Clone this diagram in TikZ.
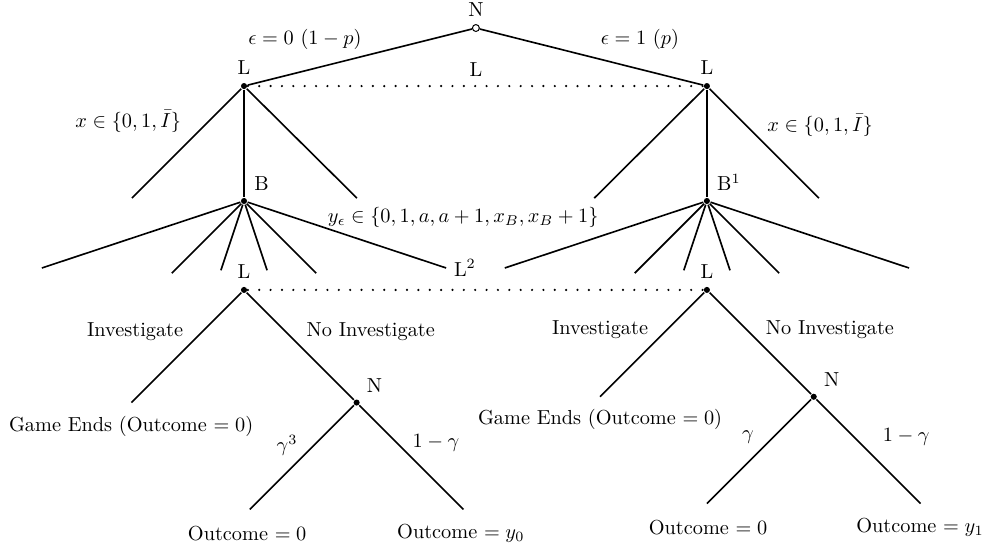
\documentclass[tikz,border=0pt]{standalone}
\usepackage{amsmath}
\begin{document}
\begin{tikzpicture}[
    thick,
    dot/.style={circle, fill=black, inner sep=0pt, minimum size=3pt},
    chance/.style={circle, draw=black, fill=white, line width=0.5pt, inner sep=0pt, minimum size=3.4pt},
    infoset/.style={line width=1.2pt, line cap=round, dash pattern=on 0pt off 5.6pt}
]
    \useasboundingbox (0,0) rectangle (17.09,-9.49);

    % Draw nodes
    \node[chance, label=above:N] (root) at (8.24,-0.485) {};
    \node[dot, label=above:L] (lA) at (4.225,-1.49) {};
    \node[dot, label=above:L] (lB) at (12.24,-1.49) {};
    \node[dot, label=above right:B] (bA) at (4.225,-3.48) {};
    \node[dot, label=above right:B$^1$] (bB) at (12.24,-3.48) {};
    \node[dot, label=above:L] (cA) at (4.225,-5.02) {};
    \node[dot, label=above:L] (cB) at (12.24,-5.02) {};
    \node[dot, label=above right:N] (nA) at (6.175,-6.97) {};
    \node[dot, label=above right:N] (nB) at (14.09,-6.87) {};

    % End points
    \coordinate (xA1) at (2.285,-3.43);
    \coordinate (xA2) at (6.18,-3.43);
    \coordinate (xB1) at (10.29,-3.43);
    \coordinate (xB2) at (14.18,-3.43);
    \coordinate (iA) at (2.275,-6.97);
    \coordinate (iB) at (10.39,-6.87);
    \coordinate (oA0) at (4.325,-8.82);
    \coordinate (oA1) at (8.025,-8.82);
    \coordinate (oB0) at (12.24,-8.72);
    \coordinate (oB1) at (15.94,-8.72);

    % Draw connections
    \draw (root) -- (lA);
    \draw (root) -- (lB);
    \draw[infoset] (lA) -- (lB);
    \draw (lA) -- (xA1);
    \draw (lA) -- (xA2);
    \draw (lA) -- (bA);
    \draw (lB) -- (xB1);
    \draw (lB) -- (xB2);
    \draw (lB) -- (bB);
    \foreach \side in {bA,bB} {
        \foreach \dx/\dy [count=\i] in {-3.5/-1.16, -1.25/-1.25, -0.4/-1.2, 0.4/-1.2, 1.25/-1.25, 3.5/-1.16} {
            \path (\side) ++(\dx,\dy) coordinate (\side-\i);
            \draw (\side) -- (\side-\i);
        }
    }
    \draw[infoset] (cA) -- (cB);
    \draw (cA) -- (iA);
    \draw (cA) -- (nA);
    \draw (nA) -- (oA0);
    \draw (nA) -- (oA1);
    \draw (cB) -- (iB);
    \draw (cB) -- (nB);
    \draw (nB) -- (oB0);
    \draw (nB) -- (oB1);

    % Labels
    \node (eps0) at (5.28,-0.69) {$\epsilon = 0\ (1-p)$};
    \node (eps1) at (11.08,-0.69) {$\epsilon = 1\ (p)$};
    \node (lset) at (8.24,-1.21) {L};
    \node (xsetA) at (2.22,-2.1) {$x \in \{0, 1, \bar{I}\}$};
    \node (xsetB) at (14.2,-2.17) {$x \in \{0, 1, \bar{I}\}$};
    \node (yset) at (8.02,-3.77) {$y_\epsilon \in \{0, 1, a, a+1, x_B, x_B+1\}$};
    \node (lset2) at (8.05,-4.64) {L$^2$};
    \node (invA) at (2.34,-5.75) {Investigate};
    \node (noinvA) at (6.42,-5.75) {No Investigate};
    \node (invB) at (10.39,-5.70) {Investigate};
    \node (noinvB) at (14.37,-5.70) {No Investigate};
    \node (endA) at (2.27,-7.39) {Game Ends (Outcome $= 0$)};
    \node (endB) at (10.39,-7.27) {Game Ends (Outcome $= 0$)};
    \node (gA) at (4.97,-7.71) {$\gamma^3$};
    \node (ngA) at (7.55,-7.67) {$1-\gamma$};
    \node (gB) at (12.95,-7.57) {$\gamma$};
    \node (ngB) at (15.69,-7.57) {$1-\gamma$};
    \node (outA0) at (4.28,-9.23) {Outcome $= 0$};
    \node (outA1) at (7.98,-9.23) {Outcome $= y_0$};
    \node (outB0) at (12.26,-9.13) {Outcome $= 0$};
    \node (outB1) at (15.93,-9.13) {Outcome $= y_1$};

\end{tikzpicture}
\end{document}
